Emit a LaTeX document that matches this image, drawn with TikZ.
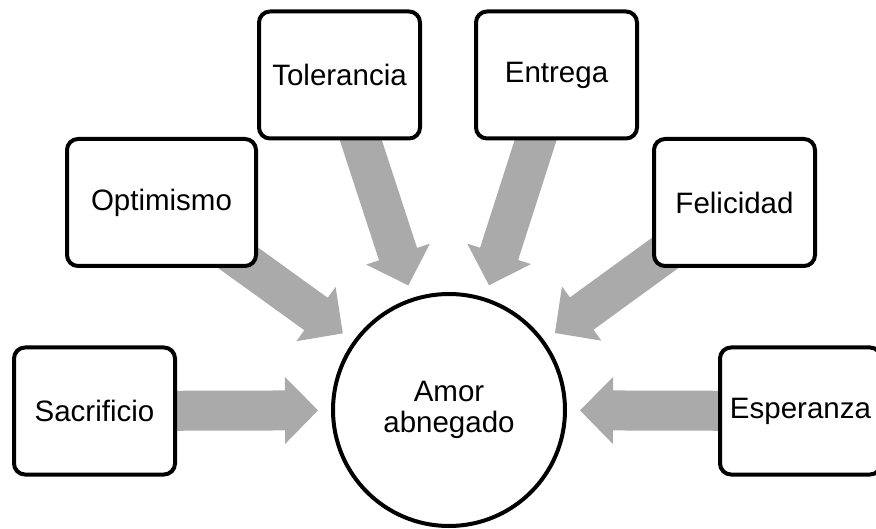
\documentclass[tikz,border=0pt]{standalone}
\usepackage{fontspec}
\setmainfont{Liberation Sans}
\usetikzlibrary{calc}
\pgfdeclarelayer{bg}
\pgfsetlayers{bg,main}
\definecolor{arrowgray}{RGB}{170,170,170}
\tikzset{
  box/.style={draw=black, line width=4pt, rounded corners=11pt, fill=white,
    minimum width=161pt, minimum height=127pt, inner sep=0pt, align=center,
    font=\fontsize{29.5}{33}\selectfont},
  hub/.style={draw=black, line width=4pt, circle, fill=white, minimum size=232pt,
    inner sep=0pt, align=center, font=\fontsize{29.5}{31}\selectfont},
  fatarrow/.style={fill=arrowgray}
}
\begin{document}
\begin{tikzpicture}[x=1pt,y=-1pt]
\useasboundingbox (0,0) rectangle (876,529);
\clip (0,0) rectangle (876,529);
\node[hub] (c) at (449,410) {Amor\\abnegado};
\node[box] (sac) at (94.5,411) {Sacrificio};
\node[box, minimum width=189pt] (opt) at (161.5,202.5) {Optimismo};
\node[box] (tol) at (339.5,75) {Tolerancia};
\node[box] (ent) at (556.5,75) {Entrega};
\node[box] (fel) at (734.5,202.5) {Felicidad};
\node[box] (esp) at (800.5,411) {Esperanza};
\begin{pgfonlayer}{bg}
\foreach \b in {sac,opt,tol,ent,fel,esp}{
  \coordinate (T) at ($(c)!131pt!(\b.center)$);
  \coordinate (H) at ($(c)!164pt!(\b.center)$);
  \fill[fatarrow] ($(\b.center)!20pt!90:(c)$) -- ($(H)!20pt!-90:(\b.center)$)
    -- ($(H)!33.5pt!-90:(\b.center)$) -- (T) -- ($(H)!33.5pt!90:(\b.center)$)
    -- ($(H)!20pt!90:(\b.center)$) -- ($(\b.center)!20pt!-90:(c)$) -- cycle;
}
\end{pgfonlayer}
\end{tikzpicture}
\end{document}
